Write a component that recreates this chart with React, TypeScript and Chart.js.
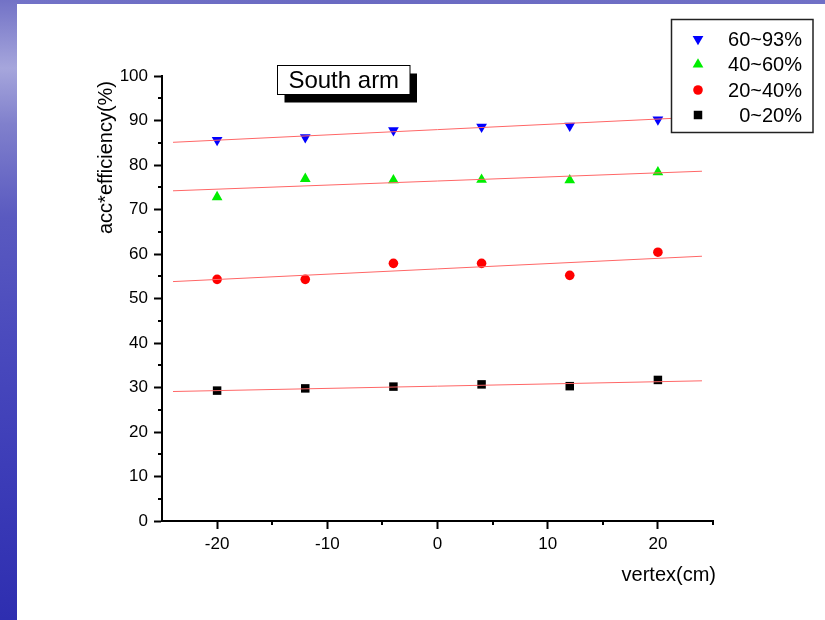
import React, { useEffect, useRef } from "react";
import { Chart, registerables } from "chart.js";

Chart.register(...registerables);

// ---- data ----
const xValues = [-20, -12, -4, 4, 12, 20];
const series60to93 = [85.6, 86.2, 87.8, 88.6, 88.8, 90.2];
const series40to60 = [72.8, 76.9, 76.6, 76.7, 76.6, 78.4];
const series20to40 = [54.3, 54.3, 57.9, 57.9, 55.2, 60.4];
const series0to20 = [29.3, 29.8, 30.2, 30.7, 30.3, 31.7];

const fitX = [-24, 24];
const fit60to93 = [85.1, 90.8];
const fit40to60 = [74.2, 78.6];
const fit20to40 = [53.8, 59.5];
const fit0to20 = [29.1, 31.5];

const legendLabels = ["60~93%", "40~60%", "20~40%", "0~20%"];
const xMin = -25;
const xMax = 25;
const yMin = 0;
const yMax = 100;
const majorStep = 10;
const minorStep = 5;

const FONT = "'Liberation Sans', Arial, sans-serif";
const FIT_COLOR = "#ff6666";

type Sym = { style: string; color: string; rot: number; r: number };
const symbols: Sym[] = [
  { style: "triangle", color: "#0000ff", rot: 180, r: 6.2 },
  { style: "triangle", color: "#00ee00", rot: 0, r: 6.2 },
  { style: "circle", color: "#ff0000", rot: 0, r: 4.8 },
  { style: "rect", color: "#000000", rot: 0, r: 6.0 },
];

const seriesList = [series60to93, series40to60, series20to40, series0to20];
const fitList = [fit60to93, fit40to60, fit20to40, fit0to20];

function drawSymbol(ctx: CanvasRenderingContext2D, s: Sym, x: number, y: number) {
  ctx.save();
  ctx.fillStyle = s.color;
  ctx.beginPath();
  if (s.style === "circle") {
    ctx.arc(x, y, s.r, 0, Math.PI * 2);
  } else if (s.style === "rect") {
    const h = s.r * Math.SQRT1_2;
    ctx.rect(x - h, y - h, 2 * h, 2 * h);
  } else {
    const sign = s.rot === 180 ? -1 : 1;
    ctx.moveTo(x, y - sign * s.r);
    ctx.lineTo(x + 0.866 * s.r, y + sign * 0.5 * s.r);
    ctx.lineTo(x - 0.866 * s.r, y + sign * 0.5 * s.r);
    ctx.closePath();
  }
  ctx.fill();
  ctx.restore();
}

const isMajor = (v: number) => Math.abs(v % majorStep) < 1e-9;

const decorPlugin = {
  id: "decor",
  afterDraw(chart: any) {
    const ctx: CanvasRenderingContext2D = chart.ctx;
    const xs = chart.scales.x;
    const ys = chart.scales.y;
    const area = chart.chartArea;
    ctx.save();
    // minor ticks
    ctx.strokeStyle = "#000";
    ctx.lineWidth = 2;
    for (let v = yMin + minorStep; v < yMax; v += majorStep) {
      const py = Math.round(ys.getPixelForValue(v));
      ctx.beginPath();
      ctx.moveTo(area.left - 4, py);
      ctx.lineTo(area.left, py);
      ctx.stroke();
    }
    for (let v = xMin + majorStep; v <= xMax; v += majorStep) {
      const px = Math.round(xs.getPixelForValue(v));
      ctx.beginPath();
      ctx.moveTo(px, area.bottom);
      ctx.lineTo(px, area.bottom + 4);
      ctx.stroke();
    }

    // axis titles
    ctx.fillStyle = "#000";
    ctx.font = `20px ${FONT}`;
    ctx.textBaseline = "middle";
    ctx.save();
    ctx.translate(106, 157.5);
    ctx.rotate(-Math.PI / 2);
    ctx.textAlign = "center";
    ctx.fillText("acc*efficiency(%)", 0, 0);
    ctx.restore();
    ctx.textAlign = "right";
    ctx.fillText("vertex(cm)", 716, 575);

    // "South arm" label with shadow
    const bx = 277.5, by = 65.5, bw = 132.5, bh = 29;
    ctx.fillStyle = "#000";
    ctx.fillRect(bx + 7, by + 8, bw, bh);
    ctx.fillStyle = "#fff";
    ctx.fillRect(bx, by, bw, bh);
    ctx.strokeStyle = "#000";
    ctx.lineWidth = 1;
    ctx.strokeRect(bx, by, bw, bh);
    ctx.fillStyle = "#000";
    ctx.font = `24px ${FONT}`;
    ctx.textAlign = "center";
    ctx.fillText("South arm", bx + bw / 2, by + bh / 2 + 1);

    // legend
    ctx.fillStyle = "#fff";
    ctx.fillRect(671.5, 19.5, 141.5, 113);
    ctx.strokeStyle = "#222";
    ctx.lineWidth = 1.5;
    ctx.strokeRect(671.5, 19.5, 141.5, 113);
    const rows = [39, 64.5, 90, 115];
    ctx.font = `20px ${FONT}`;
    ctx.textAlign = "right";
    legendLabels.forEach((lab, i) => {
      drawSymbol(ctx, symbols[i], 698, rows[i]);
      ctx.fillStyle = "#000";
      ctx.fillText(lab, 802, rows[i] + 1);
    });
    ctx.restore();
  },
};

export default function App() {
  const ref = useRef<HTMLCanvasElement | null>(null);

  useEffect(() => {
    if (!ref.current) return;
    const datasets: any[] = [];
    fitList.forEach((f, i) => {
      datasets.push({
        type: "line",
        label: "fit " + legendLabels[i],
        data: fitX.map((x, k) => ({ x, y: f[k] })),
        borderColor: FIT_COLOR,
        borderWidth: 1,
        pointRadius: 0,
        fill: false,
        order: 0,
      });
    });
    seriesList.forEach((s, i) => {
      const sym = symbols[i];
      datasets.push({
        type: "scatter",
        label: legendLabels[i],
        data: xValues.map((x, k) => ({ x, y: s[k] })),
        pointStyle: sym.style,
        rotation: sym.rot,
        pointRadius: sym.r,
        pointBackgroundColor: sym.color,
        pointBorderColor: sym.color,
        pointBorderWidth: 0,
        showLine: false,
        order: 1,
      });
    });

    const chart = new Chart(ref.current, {
      type: "scatter",
      data: { datasets },
      options: {
        animation: false,
        responsive: false,
        devicePixelRatio: 1,
        layout: { padding: { left: 0, top: 76, right: 112, bottom: 0 } },
        plugins: {
          legend: { display: false },
          tooltip: { enabled: false },
          title: { display: false },
        },
        scales: {
          x: {
            type: "linear",
            min: xMin,
            max: xMax,
            afterFit: (s: any) => {
              s.height = 99;
            },
            border: { display: true, color: "#000", width: 2 },
            grid: {
              display: true,
              drawOnChartArea: false,
              drawTicks: true,
              tickLength: 8,
              tickWidth: 2,
              color: "#000",
              tickColor: (c: any) =>
                c.tick && isMajor(c.tick.value) ? "#000" : "rgba(0,0,0,0)",
            },
            ticks: {
              stepSize: minorStep,
              autoSkip: false,
              maxRotation: 0,
              padding: 5,
              color: "#000",
              font: { family: FONT, size: 17 },
              callback: (v: any) => (isMajor(Number(v)) ? String(v) : ""),
            },
          },
          y: {
            type: "linear",
            min: yMin,
            max: yMax,
            afterFit: (s: any) => {
              s.width = 162;
            },
            border: { display: true, color: "#000", width: 2 },
            grid: {
              display: true,
              drawOnChartArea: false,
              drawTicks: true,
              tickLength: 8,
              tickWidth: 2,
              color: "#000",
              tickColor: "#000",
            },
            ticks: {
              stepSize: majorStep,
              autoSkip: false,
              padding: 6,
              color: "#000",
              font: { family: FONT, size: 17 },
            },
          },
        },
      },
      plugins: [decorPlugin],
    } as any);
    return () => chart.destroy();
  }, []);

  return (
    <div
      style={{
        position: "absolute",
        left: 0,
        top: 0,
        width: 825,
        height: 620,
        background: "#ffffff",
        overflow: "hidden",
      }}
    >
      <div
        style={{
          position: "absolute",
          left: 0,
          top: 0,
          width: 825,
          height: 4,
          background: "linear-gradient(90deg, #7373c8, #6a6ac2 40%, #7070c6)",
        }}
      />
      <div
        style={{
          position: "absolute",
          left: 0,
          top: 0,
          width: 17,
          height: 620,
          background:
            "linear-gradient(180deg, #7272c6 0%, #a6a6dc 11%, #8080cc 20%, #5a5ac0 35%, #4a4abd 55%, #3d3db8 75%, #2e2eb0 100%)",
        }}
      />
      <canvas
        ref={ref}
        width={825}
        height={620}
        style={{ position: "absolute", left: 0, top: 0, display: "block" }}
      />
    </div>
  );
}
